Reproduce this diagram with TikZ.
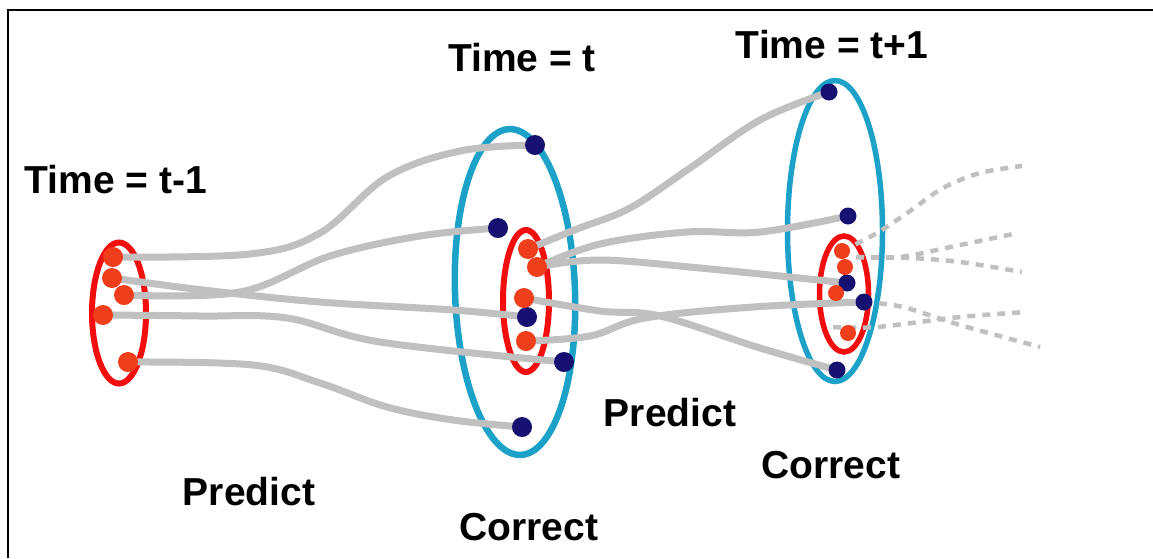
\documentclass[tikz,border=0pt]{standalone}
\usepackage{fontspec}
\setmainfont{Liberation Sans}
\usetikzlibrary{shapes.geometric}
\definecolor{navy}{RGB}{22,16,112}
\definecolor{dotred}{RGB}{238,62,28}
\definecolor{ellred}{RGB}{242,14,14}
\definecolor{ellblue}{RGB}{28,162,200}
\definecolor{trackgray}{RGB}{192,192,192}
\pgfdeclarelayer{bg}
\pgfdeclarelayer{mid}
\pgfsetlayers{bg,mid,main}
\begin{document}
\begin{tikzpicture}[x=1pt,y=-1pt,
  bluedot/.style={circle,fill=navy,inner sep=0pt,minimum size=#1},
  bluedot/.default=20pt,
  reddot/.style={circle,fill=dotred,inner sep=0pt,minimum size=#1},
  reddot/.default=20pt,
  ring/.style={ellipse,draw,inner sep=0pt,line width=#1},
  ring/.default=6pt,
  track/.style={draw=trackgray,line width=7pt,line cap=round},
  dtrack/.style={draw=trackgray,line width=4.5pt,dash pattern=on 8pt off 7pt},
  ttl/.style={anchor=base,inner sep=0pt,font=\fontsize{39}{39}\selectfont\bfseries}]
\useasboundingbox (0,0) rectangle (1153,558);

% ellipses
\begin{pgfonlayer}{bg}
\fill[white] (0,0) rectangle (1153,558);
\node[ring,draw=ellred,minimum width=54pt,minimum height=141pt] (E1) at (119,313) {};
\node[ring=6.5pt,draw=ellblue,minimum width=120pt,minimum height=326pt,rotate=2] (E2) at (515,292) {};
\node[ring,draw=ellred,minimum width=46pt,minimum height=142pt] (E3) at (526,301) {};
\node[ring=5.5pt,draw=ellblue,minimum width=95pt,minimum height=301pt] (E4) at (835,231) {};
\node[ring=5.5pt,draw=ellred,minimum width=49pt,minimum height=116pt] (E5) at (844,294) {};
\end{pgfonlayer}
\draw[line width=2pt] (8,558) -- (8,10) -- (1153,10);

% time t-1 particles
\node[reddot] (L1) at (113,257) {};
\node[reddot] (L2) at (112,278) {};
\node[reddot] (L3) at (124,295) {};
\node[reddot] (L4) at (103,315) {};
\node[reddot] (L5) at (128,362) {};
% time t predicted
\node[bluedot] (M1) at (535,145) {};
\node[bluedot] (M2) at (498,228) {};
\node[bluedot] (M3) at (527,317) {};
\node[bluedot] (M4) at (564,362) {};
\node[bluedot] (M5) at (522,427) {};
% time t corrected
\node[reddot] (R1) at (528,249) {};
\node[reddot] (R2) at (537,267) {};
\node[reddot] (R3) at (524,298) {};
\node[reddot] (R4) at (526,341) {};
% time t+1 predicted
\node[bluedot=17pt] (B1) at (829,92) {};
\node[bluedot=17pt] (B2) at (848,216) {};
\node[bluedot=17pt] (B3) at (847,283) {};
\node[bluedot=17pt] (B4) at (864,302) {};
\node[bluedot=17pt] (B5) at (837,370) {};
% time t+1 corrected
\node[reddot=16pt] (S1) at (842,251) {};
\node[reddot=16pt] (S2) at (845,267) {};
\node[reddot=16pt] (S3) at (836,293) {};
\node[reddot=16pt] (S4) at (848,333) {};

\coordinate (s2) at (856,257);
\coordinate (s5) at (833,327);
\coordinate (f1) at (1022,166);
\coordinate (f2) at (1018,233);
\coordinate (f3) at (1022,272);
\coordinate (f4) at (1040,347);
\coordinate (f5) at (1026,312);

\begin{pgfonlayer}{mid}
\path[track] plot[smooth,tension=0.6] coordinates {(L1.center) (250,254) (320,233) (387,177) (460,151) (M1.center)};
\path[track] plot[smooth,tension=0.6] coordinates {(L2.center) (203,290) (320,302) (453,310) (M3.center)};
\path[track] plot[smooth,tension=0.6] coordinates {(L3.center) (240,292) (330,256) (420,236) (M2.center)};
\path[track] plot[smooth,tension=0.6] coordinates {(L4.center) (200,316) (287,318) (380,342) (M4.center)};
\path[track] plot[smooth,tension=0.6] coordinates {(L5.center) (253,365) (320,383) (387,407) (453,420) (M5.center)};

\path[track] plot[smooth,tension=0.6] coordinates {(R1.center) (577,229) (630,208) (690,168) (760,120) (B1.center)};
\path[track] plot[smooth,tension=0.6] coordinates {(R2.center) (600,244) (687,232) (760,232) (B2.center)};
\path[track] plot[smooth,tension=0.6] coordinates {(R2.center) (600,260) (700,268) (B3.center)};
\path[track] plot[smooth,tension=0.6] coordinates {(R3.center) (600,311) (660,316) (760,348) (B5.center)};
\path[track] plot[smooth,tension=0.6] coordinates {(R4.center) (590,336) (645,318) (753,307) (B4.center)};

\path[dtrack] plot[smooth,tension=0.55] coordinates {(S1.center) (877,233) (910,211) (943,188) (980,173) (f1)};
\path[dtrack] plot[smooth,tension=0.55] coordinates {(s2) (900,257) (960,245) (f2)};
\path[dtrack] plot[smooth,tension=0.55] coordinates {(s2) (910,258) (960,262) (f3)};
\path[dtrack] plot[smooth,tension=0.55] coordinates {(B4.center) (903,307) (960,325) (f4)};
\path[dtrack] plot[smooth,tension=0.55] coordinates {(s5) (877,327) (960,317) (f5)};
\end{pgfonlayer}

% labels
\node[ttl] (T1) at (116,193) {Time = t-1};
\node[ttl] (T2) at (522,71) {Time = t};
\node[ttl] (T3) at (832,58) {Time = t+1};
\node[ttl] (P1) at (249,505) {Predict};
\node[ttl] (C1) at (529,540) {Correct};
\node[ttl] (P2) at (670,426) {Predict};
\node[ttl] (C2) at (831,478) {Correct};
\end{tikzpicture}
\end{document}
